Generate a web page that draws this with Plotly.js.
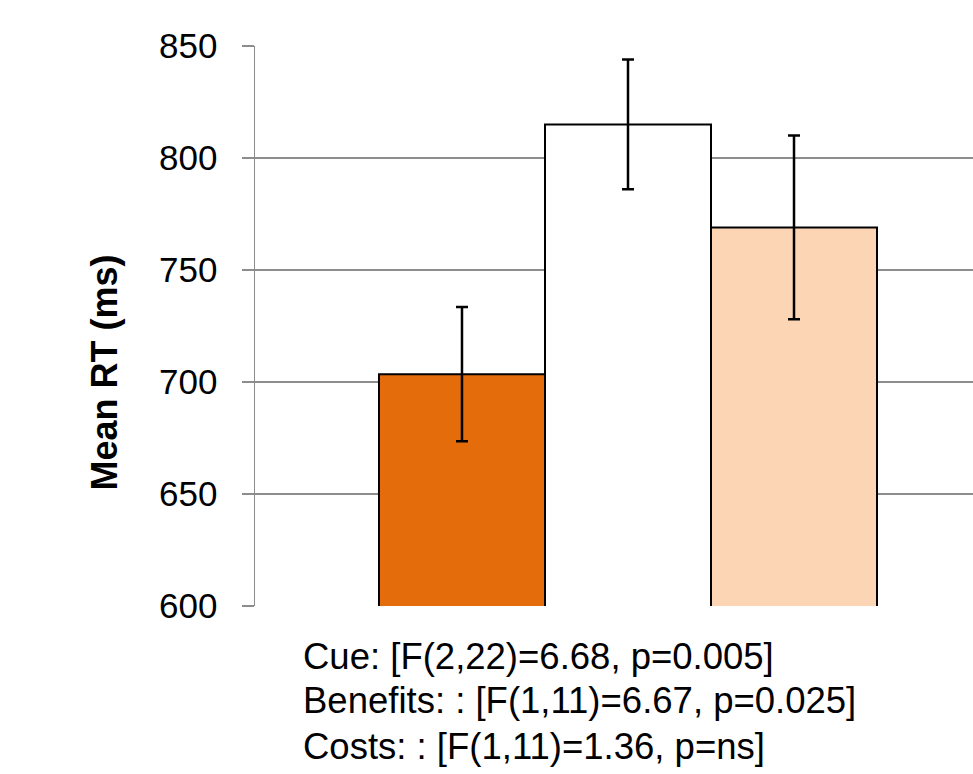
<!DOCTYPE html>
<html>
<head>
<meta charset="utf-8">
<script src="https://cdn.plot.ly/plotly-3.0.1.min.js"></script>
<style>
html, body { margin: 0; padding: 0; overflow: hidden; background: #fff; }
#chart { width: 1010px; height: 774px; }
</style>
</head>
<body>
<div id="chart"></div>
<script>
// Data
const groupLabel = ["RT"];
const conditions = ["Valid", "Neutral", "Invalid"];
const meanRT = [703.5, 815, 769];
const errRT = [30, 29, 41];
const statLines = [
  "Cue: [F(2,22)=6.68, p=0.005]",
  "Benefits: : [F(1,11)=6.67, p=0.025]",
  "Costs: : [F(1,11)=1.36, p=ns]"
];
const yTicks = [600, 650, 700, 750, 800, 850];

const barColors = ["#E46C0A", "#FFFFFF", "#FCD5B5"];

const traces = conditions.map((c, i) => ({
  type: "bar",
  name: c,
  x: groupLabel,
  y: [meanRT[i]],
  marker: { color: barColors[i], line: { color: "#000000", width: 2 } },
  error_y: { type: "data", array: [errRT[i]], visible: true, color: "#000000", thickness: 2.5, width: 6 },
  showlegend: false,
  hoverinfo: "skip"
}));

const font = "Liberation Sans, Arial, sans-serif";
const lineYs = [-0.0893, -0.1679, -0.25];

const annotations = statLines.map((t, i) => ({
  text: t,
  xref: "paper", yref: "paper",
  x: 0.0623, y: lineYs[i],
  xanchor: "left", yanchor: "middle",
  showarrow: false,
  font: { family: font, size: 36.5, color: "#000000" }
}));
annotations.push({
  text: "<b>Mean RT (ms)</b>",
  xref: "paper", yref: "paper",
  x: -0.2024, y: 0.417,
  xanchor: "center", yanchor: "middle",
  textangle: -90,
  showarrow: false,
  font: { family: font, size: 36, color: "#000000" }
});

const layout = {
  width: 1010,
  height: 774,
  margin: { l: 255, r: 9, t: 46, b: 168 },
  paper_bgcolor: "#ffffff",
  plot_bgcolor: "#ffffff",
  barmode: "group",
  bargap: 0.3324,
  bargroupgap: 0,
  xaxis: { showticklabels: false, showgrid: false, showline: false, zeroline: false, ticks: "" },
  yaxis: {
    range: [600, 850],
    tickvals: yTicks,
    ticktext: yTicks.map(String),
    showgrid: true,
    gridcolor: "#8c8c8c",
    gridwidth: 1.5,
    showline: true,
    linecolor: "#8c8c8c",
    linewidth: 1.5,
    ticks: "outside",
    ticklen: 12,
    tickwidth: 1.5,
    tickcolor: "#8c8c8c",
    ticklabelstandoff: 17,
    zeroline: false,
    tickfont: { family: font, size: 35, color: "#000000" }
  },
  annotations: annotations
};

Plotly.newPlot("chart", traces, layout, { staticPlot: true, displayModeBar: false });
</script>
</body>
</html>
